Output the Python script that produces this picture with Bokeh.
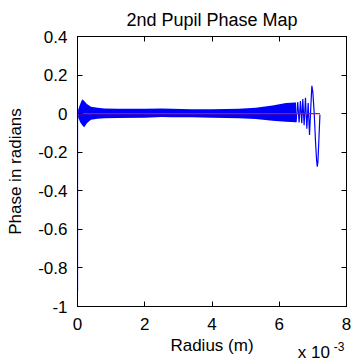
from bokeh.plotting import figure
from bokeh.models import Range1d, LinearAxis, FixedTicker, PolyAnnotation
from bokeh.embed import file_html
from bokeh.resources import INLINE

# ---- data (radius in units of 1e-3 m, phase in radians) ----
# dense fast oscillation, read as its upper / lower envelope
band_radius = [0.02, 0.08, 0.14, 0.20, 0.28, 0.40, 0.60, 0.80, 1.20, 2.00,
               2.50, 2.80, 3.40, 4.00, 4.80, 5.30, 5.80, 6.20, 6.50]
band_upper = [0.020, 0.050, 0.074, 0.065, 0.050, 0.036, 0.030, 0.027, 0.025, 0.025,
              0.027, 0.025, 0.023, 0.023, 0.025, 0.030, 0.042, 0.055, 0.058]
band_lower = [-0.020, -0.045, -0.060, -0.071, -0.050, -0.032, -0.027, -0.024, -0.022, -0.021,
              -0.017, -0.019, -0.019, -0.021, -0.024, -0.028, -0.037, -0.042, -0.045]

# start of the trace at the axis
start_radius = [0.00, 0.00, 0.02]
start_phase = [-0.92, 0.00, 0.02]

# resolved oscillations near the pupil edge
edge_radius = [6.45, 6.50, 6.55, 6.59, 6.63, 6.67, 6.70, 6.74, 6.78, 6.82,
               6.86, 6.90, 6.94, 6.97, 7.00, 7.04, 7.08, 7.11, 7.13, 7.15,
               7.18, 7.21]
edge_phase = [0.056, -0.045, 0.060, -0.046, 0.066, -0.050, 0.076, -0.060, 0.082, -0.078,
              0.055, -0.110, 0.040, 0.144, 0.110, 0.000, -0.150, -0.240, -0.275, -0.250,
              -0.130, -0.005]

ref_radius = [0.0, 7.21]
ref_phase = [0.0, 0.0]

x_ticks = [0, 2, 4, 6, 8]
y_ticks = [-1.0, -0.8, -0.6, -0.4, -0.2, 0.0, 0.2, 0.4]
y_tick_labels = ["-1", "-0.8", "-0.6", "-0.4", "-0.2", "0", "0.2", "0.4"]

# axis multiplier text "x 10^-3", anchored in x-data units
mult_text = "x 10"
mult_x = 7.03
exp_text = "-3"
exp_x = 7.78

FONT = "Liberation Sans"
FS = "17px"
BLUE = "#0000ff"

p = figure(frame_width=269, frame_height=270, output_backend="svg", toolbar_location=None,
           x_range=Range1d(0, 8), y_range=Range1d(-1, 0.4),
           min_border_left=77, min_border_right=10, min_border_top=35,
           min_border_bottom=59, title="2nd Pupil Phase Map")
p.background_fill_color = "white"
p.border_fill_color = "white"
p.grid.visible = False
p.outline_line_color = "black"
p.outline_line_width = 1

p.title.align = "center"
p.title.text_font = FONT
p.title.text_font_size = "18px"
p.title.text_font_style = "normal"
p.title.text_color = "black"
p.title.standoff = 14

p.varea(x=band_radius, y1=band_lower, y2=band_upper, fill_color=BLUE, fill_alpha=1.0)
p.line(start_radius, start_phase, line_color=BLUE, line_width=1.2)
p.line(edge_radius, edge_phase, line_color=BLUE, line_width=1.2)
p.line(ref_radius, ref_phase, line_color="#ff0000", line_width=1.3)
# the trace lies on top of the left axis line at radius 0
p.add_layout(PolyAnnotation(xs=start_radius[:2], ys=start_phase[:2],
                            line_color=BLUE, line_width=1.2,
                            fill_color=None, level="overlay"))

overrides = {t: l for t, l in zip(y_ticks, y_tick_labels)}

def style(ax, show, standoff=8):
    ax.axis_line_color = "black"
    ax.major_tick_line_color = "black"
    ax.major_tick_in = 5
    ax.major_tick_out = 0
    ax.minor_tick_line_color = None
    ax.major_label_text_font = FONT
    if show:
        ax.major_label_text_color = "black"
        ax.major_label_text_font_size = FS
        ax.major_label_standoff = standoff
    else:
        ax.major_label_text_color = None
        ax.major_label_text_font_size = "1px"
        ax.major_label_standoff = 0

for ax in p.xaxis:
    ax.ticker = FixedTicker(ticks=x_ticks)
    style(ax, True, 11)
    ax.axis_label = "Radius (m)"
for ax in p.yaxis:
    ax.ticker = FixedTicker(ticks=y_ticks)
    ax.major_label_overrides = overrides
    style(ax, True, 10)
    ax.axis_label = "Phase in radians"

for ax in list(p.xaxis) + list(p.yaxis):
    ax.axis_label_text_font = FONT
    ax.axis_label_text_font_size = FS
    ax.axis_label_text_font_style = "normal"
    ax.axis_label_text_color = "black"
p.xaxis.axis_label_standoff = 3
p.yaxis.axis_label_standoff = 10

top = LinearAxis(ticker=FixedTicker(ticks=x_ticks))
style(top, False)
p.add_layout(top, "above")
right = LinearAxis(ticker=FixedTicker(ticks=y_ticks))
style(right, False)
p.add_layout(right, "right")

def text_axis(pos, text, size, standoff):
    ax = LinearAxis(ticker=FixedTicker(ticks=[pos]),
                    major_label_overrides={pos: text})
    ax.axis_line_color = None
    ax.major_tick_line_color = None
    ax.minor_tick_line_color = None
    ax.major_tick_in = 0
    ax.major_tick_out = 0
    ax.major_label_text_font = FONT
    ax.major_label_text_font_size = size
    ax.major_label_text_color = "black"
    ax.major_label_standoff = standoff
    p.add_layout(ax, "below")

text_axis(mult_x, mult_text, FS, -15)
text_axis(exp_x, exp_text, "12px", -23)

open("out.html", "w").write(file_html(p, INLINE))
